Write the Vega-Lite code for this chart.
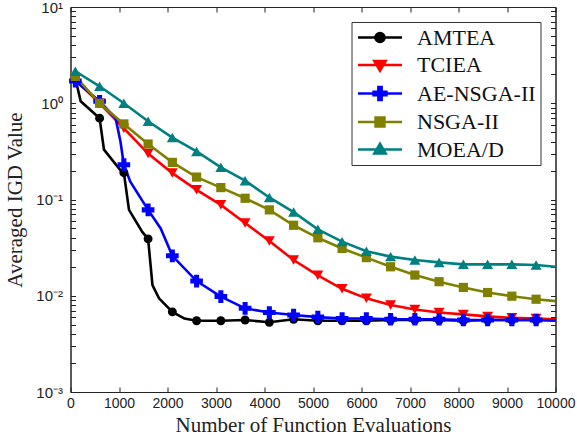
{
  "$schema": "https://vega.github.io/schema/vega-lite/v6.json",
  "width": 485,
  "height": 385,
  "padding": {"left": 4.5, "top": 0, "right": 3, "bottom": 4},
  "background": "white",
  "config": {
    "view": {"stroke": "#222", "strokeWidth": 1},
    "axis": {"grid": false, "domainColor": "#222", "tickColor": "#222", "labelColor": "#222", "titleColor": "#222"}
  },
  "data": {
    "values": [
      {"series": "AMTEA", "x": 100, "y": 1.82, "m": 1},
      {"series": "AMTEA", "x": 210, "y": 1.05, "m": 0},
      {"series": "AMTEA", "x": 600, "y": 0.70, "m": 1},
      {"series": "AMTEA", "x": 690, "y": 0.33, "m": 0},
      {"series": "AMTEA", "x": 1035, "y": 0.20, "m": 0},
      {"series": "AMTEA", "x": 1100, "y": 0.19, "m": 1},
      {"series": "AMTEA", "x": 1206, "y": 0.078, "m": 0},
      {"series": "AMTEA", "x": 1480, "y": 0.046, "m": 0},
      {"series": "AMTEA", "x": 1600, "y": 0.039, "m": 1},
      {"series": "AMTEA", "x": 1690, "y": 0.0129, "m": 0},
      {"series": "AMTEA", "x": 1825, "y": 0.0094, "m": 0},
      {"series": "AMTEA", "x": 2100, "y": 0.0068, "m": 1},
      {"series": "AMTEA", "x": 2350, "y": 0.0058, "m": 0},
      {"series": "AMTEA", "x": 2600, "y": 0.0055, "m": 1},
      {"series": "AMTEA", "x": 3100, "y": 0.0055, "m": 1},
      {"series": "AMTEA", "x": 3600, "y": 0.0056, "m": 1},
      {"series": "AMTEA", "x": 4100, "y": 0.0053, "m": 1},
      {"series": "AMTEA", "x": 4600, "y": 0.0057, "m": 1},
      {"series": "AMTEA", "x": 5100, "y": 0.0055, "m": 1},
      {"series": "AMTEA", "x": 5600, "y": 0.0055, "m": 1},
      {"series": "AMTEA", "x": 6100, "y": 0.0055, "m": 1},
      {"series": "AMTEA", "x": 6600, "y": 0.0056, "m": 1},
      {"series": "AMTEA", "x": 7100, "y": 0.0056, "m": 1},
      {"series": "AMTEA", "x": 7600, "y": 0.0056, "m": 1},
      {"series": "AMTEA", "x": 8100, "y": 0.0055, "m": 1},
      {"series": "AMTEA", "x": 8600, "y": 0.0056, "m": 1},
      {"series": "AMTEA", "x": 9100, "y": 0.0056, "m": 1},
      {"series": "AMTEA", "x": 9600, "y": 0.0056, "m": 1},
      {"series": "AMTEA", "x": 10000, "y": 0.0056, "m": 0},

      {"series": "TCIEA", "x": 100, "y": 1.75, "m": 1},
      {"series": "TCIEA", "x": 600, "y": 1.0, "m": 1},
      {"series": "TCIEA", "x": 1100, "y": 0.55, "m": 1},
      {"series": "TCIEA", "x": 1600, "y": 0.30, "m": 1},
      {"series": "TCIEA", "x": 2100, "y": 0.188, "m": 1},
      {"series": "TCIEA", "x": 2600, "y": 0.126, "m": 1},
      {"series": "TCIEA", "x": 3100, "y": 0.088, "m": 1},
      {"series": "TCIEA", "x": 3600, "y": 0.057, "m": 1},
      {"series": "TCIEA", "x": 4100, "y": 0.037, "m": 1},
      {"series": "TCIEA", "x": 4600, "y": 0.0235, "m": 1},
      {"series": "TCIEA", "x": 5100, "y": 0.0163, "m": 1},
      {"series": "TCIEA", "x": 5600, "y": 0.0118, "m": 1},
      {"series": "TCIEA", "x": 6100, "y": 0.0094, "m": 1},
      {"series": "TCIEA", "x": 6600, "y": 0.0080, "m": 1},
      {"series": "TCIEA", "x": 7100, "y": 0.0072, "m": 1},
      {"series": "TCIEA", "x": 7600, "y": 0.0067, "m": 1},
      {"series": "TCIEA", "x": 8100, "y": 0.0064, "m": 1},
      {"series": "TCIEA", "x": 8600, "y": 0.0061, "m": 1},
      {"series": "TCIEA", "x": 9100, "y": 0.0059, "m": 1},
      {"series": "TCIEA", "x": 9600, "y": 0.0058, "m": 1},
      {"series": "TCIEA", "x": 10000, "y": 0.0057, "m": 0},

      {"series": "AE-NSGA-II", "x": 100, "y": 1.7, "m": 1},
      {"series": "AE-NSGA-II", "x": 600, "y": 1.05, "m": 1},
      {"series": "AE-NSGA-II", "x": 930, "y": 0.70, "m": 0},
      {"series": "AE-NSGA-II", "x": 1030, "y": 0.40, "m": 0},
      {"series": "AE-NSGA-II", "x": 1100, "y": 0.23, "m": 1},
      {"series": "AE-NSGA-II", "x": 1230, "y": 0.154, "m": 0},
      {"series": "AE-NSGA-II", "x": 1600, "y": 0.078, "m": 1},
      {"series": "AE-NSGA-II", "x": 1860, "y": 0.05, "m": 0},
      {"series": "AE-NSGA-II", "x": 2100, "y": 0.026, "m": 1},
      {"series": "AE-NSGA-II", "x": 2600, "y": 0.0142, "m": 1},
      {"series": "AE-NSGA-II", "x": 3100, "y": 0.0098, "m": 1},
      {"series": "AE-NSGA-II", "x": 3600, "y": 0.0074, "m": 1},
      {"series": "AE-NSGA-II", "x": 4100, "y": 0.0067, "m": 1},
      {"series": "AE-NSGA-II", "x": 4600, "y": 0.0063, "m": 1},
      {"series": "AE-NSGA-II", "x": 5100, "y": 0.0060, "m": 1},
      {"series": "AE-NSGA-II", "x": 5600, "y": 0.0058, "m": 1},
      {"series": "AE-NSGA-II", "x": 6100, "y": 0.0058, "m": 1},
      {"series": "AE-NSGA-II", "x": 6600, "y": 0.0057, "m": 1},
      {"series": "AE-NSGA-II", "x": 7100, "y": 0.0057, "m": 1},
      {"series": "AE-NSGA-II", "x": 7600, "y": 0.0057, "m": 1},
      {"series": "AE-NSGA-II", "x": 8100, "y": 0.0056, "m": 1},
      {"series": "AE-NSGA-II", "x": 8600, "y": 0.0056, "m": 1},
      {"series": "AE-NSGA-II", "x": 9100, "y": 0.0056, "m": 1},
      {"series": "AE-NSGA-II", "x": 9600, "y": 0.0056, "m": 1},
      {"series": "AE-NSGA-II", "x": 10000, "y": 0.0055, "m": 0},

      {"series": "NSGA-II", "x": 100, "y": 1.9, "m": 1},
      {"series": "NSGA-II", "x": 600, "y": 1.0, "m": 1},
      {"series": "NSGA-II", "x": 1100, "y": 0.61, "m": 1},
      {"series": "NSGA-II", "x": 1600, "y": 0.377, "m": 1},
      {"series": "NSGA-II", "x": 2100, "y": 0.243, "m": 1},
      {"series": "NSGA-II", "x": 2600, "y": 0.171, "m": 1},
      {"series": "NSGA-II", "x": 3100, "y": 0.133, "m": 1},
      {"series": "NSGA-II", "x": 3600, "y": 0.103, "m": 1},
      {"series": "NSGA-II", "x": 4100, "y": 0.078, "m": 1},
      {"series": "NSGA-II", "x": 4600, "y": 0.054, "m": 1},
      {"series": "NSGA-II", "x": 5100, "y": 0.040, "m": 1},
      {"series": "NSGA-II", "x": 5600, "y": 0.031, "m": 1},
      {"series": "NSGA-II", "x": 6100, "y": 0.0249, "m": 1},
      {"series": "NSGA-II", "x": 6600, "y": 0.020, "m": 1},
      {"series": "NSGA-II", "x": 7100, "y": 0.0164, "m": 1},
      {"series": "NSGA-II", "x": 7600, "y": 0.014, "m": 1},
      {"series": "NSGA-II", "x": 8100, "y": 0.0122, "m": 1},
      {"series": "NSGA-II", "x": 8600, "y": 0.0108, "m": 1},
      {"series": "NSGA-II", "x": 9100, "y": 0.0099, "m": 1},
      {"series": "NSGA-II", "x": 9600, "y": 0.0092, "m": 1},
      {"series": "NSGA-II", "x": 10000, "y": 0.0088, "m": 0},

      {"series": "MOEA/D", "x": 100, "y": 2.15, "m": 1},
      {"series": "MOEA/D", "x": 600, "y": 1.5, "m": 1},
      {"series": "MOEA/D", "x": 1100, "y": 1.0, "m": 1},
      {"series": "MOEA/D", "x": 1600, "y": 0.65, "m": 1},
      {"series": "MOEA/D", "x": 2100, "y": 0.44, "m": 1},
      {"series": "MOEA/D", "x": 2600, "y": 0.316, "m": 1},
      {"series": "MOEA/D", "x": 3100, "y": 0.216, "m": 1},
      {"series": "MOEA/D", "x": 3600, "y": 0.157, "m": 1},
      {"series": "MOEA/D", "x": 4100, "y": 0.105, "m": 1},
      {"series": "MOEA/D", "x": 4600, "y": 0.074, "m": 1},
      {"series": "MOEA/D", "x": 5100, "y": 0.049, "m": 1},
      {"series": "MOEA/D", "x": 5600, "y": 0.0365, "m": 1},
      {"series": "MOEA/D", "x": 6100, "y": 0.029, "m": 1},
      {"series": "MOEA/D", "x": 6600, "y": 0.0255, "m": 1},
      {"series": "MOEA/D", "x": 7100, "y": 0.0235, "m": 1},
      {"series": "MOEA/D", "x": 7600, "y": 0.0222, "m": 1},
      {"series": "MOEA/D", "x": 8100, "y": 0.0212, "m": 1},
      {"series": "MOEA/D", "x": 8600, "y": 0.0212, "m": 1},
      {"series": "MOEA/D", "x": 9100, "y": 0.0212, "m": 1},
      {"series": "MOEA/D", "x": 9600, "y": 0.0209, "m": 1},
      {"series": "MOEA/D", "x": 10000, "y": 0.0200, "m": 0}
    ]
  },
  "layer": [
    {
      "mark": {"type": "line", "strokeWidth": 2.6},
      "encoding": {
        "x": {
          "field": "x", "type": "quantitative",
          "scale": {"domain": [0, 10000], "nice": false},
          "axis": {
            "values": [0, 1000, 2000, 3000, 4000, 5000, 6000, 7000, 8000, 9000, 10000],
            "format": "d", "tickSize": -5, "labelPadding": 9,
            "labelFont": "Liberation Sans", "labelFontSize": 14, "labelFlush": false, "labelOverlap": false,
            "title": "Number of Function Evaluations", "titleFont": "Liberation Serif",
            "titleFontSize": 21, "titleFontWeight": "normal", "titlePadding": 4
          }
        },
        "y": {
          "field": "y", "type": "quantitative",
          "scale": {"type": "log", "domain": [0.001, 10], "nice": false},
          "axis": {
            "values": [0.001, 0.002, 0.003, 0.004, 0.005, 0.006, 0.007, 0.008, 0.009, 0.01, 0.02, 0.03, 0.04, 0.05, 0.06, 0.07, 0.08, 0.09, 0.1, 0.2, 0.3, 0.4, 0.5, 0.6, 0.7, 0.8, 0.9, 1, 2, 3, 4, 5, 6, 7, 8, 9, 10],
            "labelExpr": "abs(log(datum.value)/LN10 - round(log(datum.value)/LN10)) > 0.001 ? '' : (round(log(datum.value)/LN10) == 1 ? '10¹' : round(log(datum.value)/LN10) == 0 ? '10⁰' : round(log(datum.value)/LN10) == -1 ? '10⁻¹' : round(log(datum.value)/LN10) == -2 ? '10⁻²' : '10⁻³')",
            "tickSize": -5, "labelPadding": 13, "labelOverlap": false, "labelFlush": false,
            "labelFont": "Liberation Sans", "labelFontSize": 15,
            "title": "Averaged IGD Value", "titleFont": "Liberation Serif",
            "titleFontSize": 21, "titleFontWeight": "normal", "titlePadding": 10
          }
        },
        "color": {
          "field": "series", "type": "nominal",
          "scale": {"domain": ["MOEA/D", "NSGA-II", "AE-NSGA-II", "TCIEA", "AMTEA"], "range": ["#008080", "#808000", "#0000ff", "#ff0000", "#000000"]},
          "legend": null
        },
        "detail": {"field": "series"}
      }
    },
    {
      "transform": [{"filter": "datum.m == 1"}],
      "encoding": {
        "x": {"field": "x", "type": "quantitative", "axis": null},
        "y": {"field": "y", "type": "quantitative", "axis": null},
        "color": {"field": "series", "type": "nominal", "legend": null}
      },
      "layer": [
        {"transform": [{"filter": "datum.series == 'AMTEA'"}], "mark": {"type": "point", "shape": "circle", "filled": true, "opacity": 1, "size": 80}},
        {"transform": [{"filter": "datum.series == 'TCIEA'"}], "mark": {"type": "point", "shape": "triangle-down", "filled": true, "opacity": 1, "size": 120}},
        {"transform": [{"filter": "datum.series == 'AE-NSGA-II'"}], "mark": {"type": "point", "shape": "cross", "filled": true, "opacity": 1, "size": 160}},
        {"transform": [{"filter": "datum.series == 'NSGA-II'"}], "mark": {"type": "point", "shape": "square", "filled": true, "opacity": 1, "size": 85}},
        {"transform": [{"filter": "datum.series == 'MOEA/D'"}], "mark": {"type": "point", "shape": "triangle-up", "filled": true, "opacity": 1, "size": 120}}
      ]
    },
    {
      "transform": [{"filter": "datum.m == 1"}],
      "mark": {"type": "point", "filled": true, "opacity": 0, "strokeWidth": 2.6},
      "encoding": {
        "x": {"field": "x", "type": "quantitative", "axis": null},
        "y": {"field": "y", "type": "quantitative", "axis": null},
        "fill": {
          "field": "series", "type": "nominal",
          "scale": {"domain": ["AMTEA", "TCIEA", "AE-NSGA-II", "NSGA-II", "MOEA/D"], "range": ["#000000", "#ff0000", "#0000ff", "#808000", "#008080"]}
        },
        "stroke": {
          "field": "series", "type": "nominal",
          "scale": {"domain": ["AMTEA", "TCIEA", "AE-NSGA-II", "NSGA-II", "MOEA/D"], "range": ["#000000", "#ff0000", "#0000ff", "#808000", "#008080"]}
        },
        "shape": {
          "field": "series", "type": "nominal",
          "scale": {
            "domain": ["AMTEA", "TCIEA", "AE-NSGA-II", "NSGA-II", "MOEA/D"],
            "range": [
              "M-2.75,0L2.75,0M0.56,0A0.56,0.56,0,1,1,-0.56,0A0.56,0.56,0,1,1,0.56,0Z",
              "M-2.75,0L2.75,0M-0.7,-0.5L0.7,-0.5L0,0.7Z",
              "M-2.75,0L2.75,0M-0.2,-0.8L0.2,-0.8L0.2,-0.2L0.8,-0.2L0.8,0.2L0.2,0.2L0.2,0.8L-0.2,0.8L-0.2,0.2L-0.8,0.2L-0.8,-0.2L-0.2,-0.2Z",
              "M-2.75,0L2.75,0M-0.55,-0.55L0.55,-0.55L0.55,0.55L-0.55,0.55Z",
              "M-2.75,0L2.75,0M-0.7,0.5L0.7,0.5L0,-0.7Z"
            ]
          },
          "legend": {
            "title": null, "orient": "top-right", "offset": 15, "padding": 4.5,
            "rowPadding": 5.5, "symbolSize": 256, "symbolStrokeWidth": 2.6, "symbolOpacity": 1,
            "symbolOffset": 13, "labelOffset": 26,
            "labelFont": "Liberation Serif", "labelFontSize": 22, "labelColor": "#111",
            "strokeColor": "#333", "fillColor": "white", "cornerRadius": 0
          }
        }
      }
    },
    {
      "transform": [{"filter": "datum.m == 1"}],
      "mark": {"type": "point", "opacity": 0},
      "encoding": {
        "x": {
          "field": "x", "type": "quantitative",
          "axis": {"orient": "top", "values": [0, 1000, 2000, 3000, 4000, 5000, 6000, 7000, 8000, 9000, 10000], "labels": false, "title": null, "tickSize": -5}
        },
        "y": {
          "field": "y", "type": "quantitative",
          "axis": {"orient": "right", "values": [0.001, 0.002, 0.003, 0.004, 0.005, 0.006, 0.007, 0.008, 0.009, 0.01, 0.02, 0.03, 0.04, 0.05, 0.06, 0.07, 0.08, 0.09, 0.1, 0.2, 0.3, 0.4, 0.5, 0.6, 0.7, 0.8, 0.9, 1, 2, 3, 4, 5, 6, 7, 8, 9, 10], "labels": false, "title": null, "tickSize": -5}
        }
      }
    }
  ],
  "resolve": {"axis": {"x": "independent", "y": "independent"}}
}
